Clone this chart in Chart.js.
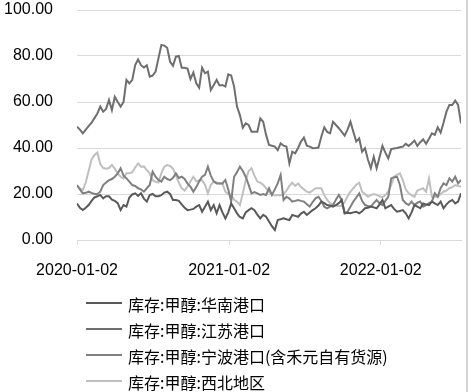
<!DOCTYPE html>
<html><head><meta charset="utf-8">
<script src="https://cdn.jsdelivr.net/npm/chart.js@4"></script>
<style>
html,body{margin:0;padding:0;background:#fff;}
#wrap{position:relative;width:468px;height:392px;overflow:hidden;}
canvas{display:block;}
#border{position:absolute;left:466px;top:0;width:2px;height:392px;background:#d4d4d4;}
</style>
</head><body>
<div id="wrap"><canvas id="c" width="468" height="392"></canvas><div id="border"></div></div>
<script>
const startDate = '2020-01-02';
const stepDays = 7;
const tickDates = ['2020-01-02', '2021-01-02', '2022-01-02'];
const yTicks = [0, 20, 40, 60, 80, 100];
const seriesNames = ['库存:甲醇:华南港口', '库存:甲醇:江苏港口', '库存:甲醇:宁波港口(含禾元自有货源)', '库存:甲醇:西北地区'];
const seriesColors = ['#595959', '#6f6f6f', '#808080', '#bfbfbf'];

const huanan = [
15.9,14,13,14,15.2,17,18.5,19,19.6,18.1,
19,19,17.5,17,16,13,15.2,14.5,18.5,19.8,
20.3,19.2,20.3,18,16.7,19.5,20,19,19,19.5,
20.6,21,20,17.4,17.4,17,15.5,14,13,13.2,
13.5,14.5,15.2,12.3,14.5,16.7,13,15.2,11.6,15.2,
12,9.4,12,15.9,13.8,11.6,10,9.4,12,13,
13.8,13,11,9.4,10.9,10.1,8,6,4.3,8.7,
9,9.4,9,8.7,10.9,10.5,10.1,11.5,12.3,10.9,
12,13,13.8,15,16.7,16,15.2,15,14.5,15.2,
16,17.4,11.6,11.8,11.6,12,12.3,11.6,12.5,13.8,
14,14.5,14.2,13.8,15.5,17.4,13.8,14.5,15.2,13.5,
12.3,12.6,13,11.6,9.4,12,15.2,14.5,13.8,15.9,
15.5,15.2,16.7,15.9,15.2,16.7,13.8,15.5,16.7,17.4,
15.9,16.7,20.3];

const jiangsu = [
49.3,48,46.4,48,49.5,51,53,55,58,55.8,
57,60.9,56.5,62.3,60,58,60,69.6,68.1,69.6,
76.1,78.5,76,75,76,71,71.5,73.2,79,84.8,
84.5,83.6,77.5,75.7,79.7,80,74.9,74.9,74.5,70,
72.8,68.1,66.2,74.9,72.5,73.2,65.2,67.4,69.6,67.2,
67.4,66.7,72,71.5,66.7,58,54.3,48.8,50.7,50,
47.1,47.1,47.1,52.9,51.4,45.7,41.3,41,40.6,39.1,
42,41,40.6,33.3,38.4,37.7,40,42.8,44.5,41,
40.6,39.9,40,40.2,45,49,47,46.4,51.4,50,
48.6,47,45.4,48,51.4,47,42.8,44.2,38.4,39.9,
35,31.2,36.2,31.2,36,40.9,38,35.5,39.5,39.8,
40,40.3,40.6,41.8,40.9,42,43.2,40.9,42.5,43.8,
41.8,44,46.4,45.7,49,46.7,51,55.8,58.7,58.7,
60.6,58.7,50.7];

const ningbo = [
23.9,22,20.3,20.5,21,20.5,20,20,21,23.9,
25,26,26.5,27.5,29,31.2,28,26.8,25.4,23.9,
23.5,22.5,22,21,22.5,23.9,29.7,27.5,26.1,25.4,
27.5,26.5,26,27,29,27,27.5,26.5,24.5,23.2,
21,23,25.5,27.5,28.3,31.9,28,25.5,24.6,24.6,
24.6,26.1,22,16.7,27.5,29.5,31.9,30,27.5,24,
20.3,20.8,20.3,19.6,20,19.6,22.5,19.6,22,24.6,
28.3,17.4,18.8,18,16.7,17,17.4,17,16.7,15.5,
14.5,16.5,18.1,18.8,17,14.5,13.8,14.5,15.2,17.5,
19.6,17.4,11.6,12.3,14.5,16.7,18.5,20.3,17,15.2,
14.8,14.5,16,17.4,16,15.2,17,18.8,26.8,27.3,
27.5,23.9,17.4,16,15.2,16.7,15.2,16.2,16.7,14.5,
15.2,16,16.7,20.3,18.8,22.5,24.6,23.9,26.8,25.4,
27.5,24.6,26.1];

const xibei = [
23.2,22.5,21.7,25,30,35,37,38,33,31.3,
31,31.3,32.6,31,29,27.5,26.8,29,29,29.5,
31.5,33.3,31.9,32,30.4,29,26,25.3,25,29,
31.9,32.6,32.2,31,28,25,22.5,21.5,23.2,25.5,
27.5,25.5,26,26,24,20.3,24,25.4,25,24.6,
24.6,21,20,19.6,17.5,16.7,15.2,20.3,26,30,
31.2,28,25.4,24.9,24,22.5,21,19.6,19.5,19.5,
19.5,20,21.5,23.5,24.9,23.5,24.6,23,22,21,
20.6,21.5,22.5,22.5,22.5,19.5,17.4,16,15.5,15,
14.8,14.8,16.5,19,21,22.5,24,24.9,21,20,
18.8,19.5,20,19.6,19,18.5,19.5,21,24,27.5,
28.3,29,26,22,20.3,19.5,18.8,21.5,22,22.5,
21,26.8,18.8,18.8,18.8,20,21,21.5,22.5,23,
23.9,23.5,23.2];

const DAY = 86400000;
const t0 = Date.parse(startDate);
const dayOf = s => Math.round((Date.parse(s) - t0) / DAY);
const dates = huanan.map((_, i) => new Date(t0 + i * stepDays * DAY).toISOString().slice(0, 10));
const pts = arr => arr.map((v, i) => ({ x: dayOf(dates[i]), y: v }));
const allSeries = [huanan, jiangsu, ningbo, xibei];

const legendPlugin = {
  id: 'stackLegend',
  afterDraw(chart) {
    const ctx = chart.ctx;
    const top = chart.chartArea.bottom + 65;
    ctx.save();
    ctx.font = '16px "Noto Sans CJK SC", sans-serif';
    ctx.textBaseline = 'middle';
    ctx.textAlign = 'left';
    chart.data.datasets.forEach((ds, i) => {
      const y = top + i * 26;
      ctx.strokeStyle = ds.borderColor;
      ctx.lineWidth = 2;
      ctx.beginPath();
      ctx.moveTo(86, y - 2);
      ctx.lineTo(122, y - 2);
      ctx.stroke();
      ctx.fillStyle = '#000';
      ctx.fillText(ds.label, 128, y);
    });
    ctx.restore();
  }
};

const zeroPad = s => { s.paddingTop = 0; s.paddingBottom = 0; s.paddingLeft = 0; s.paddingRight = 0; };

new Chart(document.getElementById('c'), {
  type: 'line',
  data: {
    datasets: allSeries.map((arr, i) => ({
      label: seriesNames[i],
      data: pts(arr),
      borderColor: seriesColors[i],
      backgroundColor: seriesColors[i],
      borderWidth: 2,
      pointRadius: 0,
      tension: 0,
      fill: false
    }))
  },
  options: {
    responsive: false,
    animation: false,
    devicePixelRatio: 1,
    layout: { autoPadding: false, padding: { top: 10, right: 7, bottom: 107, left: 0 } },
    plugins: { legend: { display: false }, tooltip: { enabled: false } },
    scales: {
      x: {
        type: 'linear',
        min: 0,
        max: dayOf(dates[dates.length - 1]),
        afterBuildTicks: s => { s.ticks = tickDates.map(d => ({ value: dayOf(d) })); },
        afterFit: s => { s.height = 45; zeroPad(s); },
        ticks: {
          autoSkip: false, maxRotation: 0, padding: 16,
          color: '#000',
          font: { family: '"Liberation Sans", Arial, sans-serif', size: 16 },
          callback: (v, i) => tickDates[i]
        },
        grid: { drawOnChartArea: false, drawTicks: true, tickLength: 5, color: '#d9d9d9' },
        border: { display: true, color: '#d9d9d9', width: 1 }
      },
      y: {
        min: 0, max: 100,
        afterBuildTicks: s => { s.ticks = yTicks.map(v => ({ value: v })); },
        afterFit: s => { s.width = 77; zeroPad(s); },
        ticks: {
          padding: 24, color: '#000',
          font: { family: '"Liberation Sans", Arial, sans-serif', size: 16 },
          callback: v => Number(v).toFixed(2)
        },
        grid: { drawTicks: false, color: '#d9d9d9' },
        border: { display: false }
      }
    }
  },
  plugins: [legendPlugin]
});
</script>
</body></html>
